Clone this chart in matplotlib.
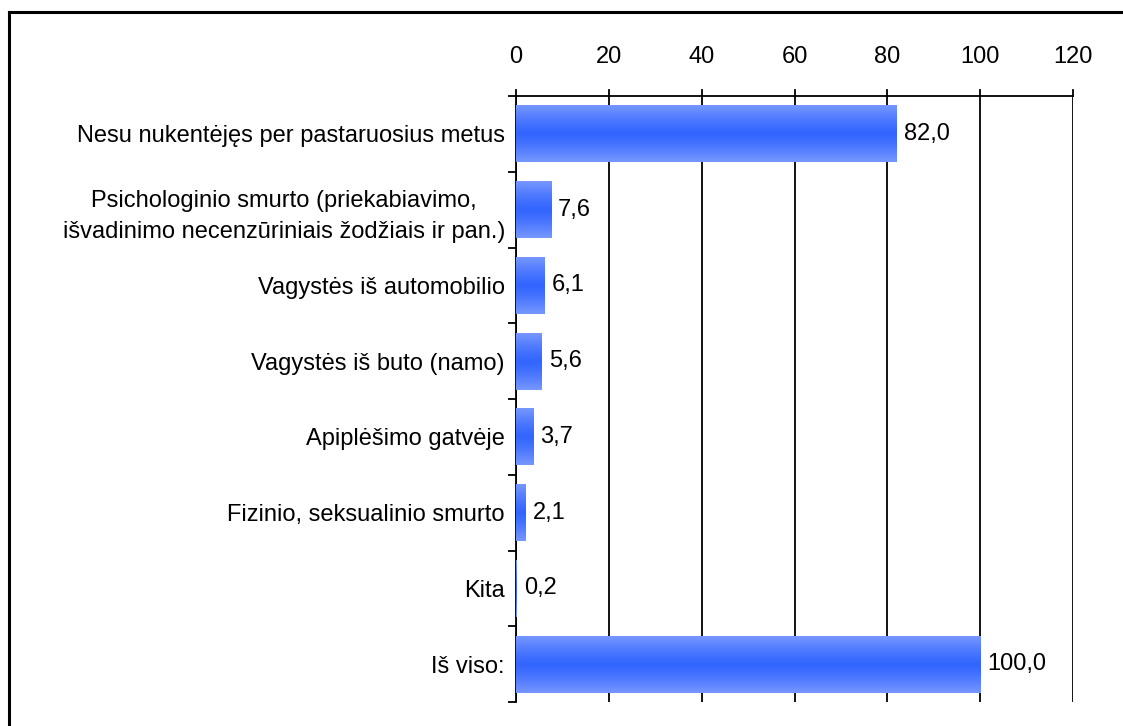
import matplotlib.pyplot as plt
import numpy as np
from matplotlib.colors import LinearSegmentedColormap
from matplotlib.lines import Line2D

plt.rcParams['font.family'] = ['Liberation Sans', 'DejaVu Sans']

categories = [
    "Nesu nukentėjęs per pastaruosius metus",
    "Psichologinio smurto (priekabiavimo,\nišvadinimo necenzūriniais žodžiais ir pan.)",
    "Vagystės iš automobilio",
    "Vagystės iš buto (namo)",
    "Apiplėšimo gatvėje",
    "Fizinio, seksualinio smurto",
    "Kita",
    "Iš viso:",
]
values = [82.0, 7.6, 6.1, 5.6, 3.7, 2.1, 0.2, 100.0]
xticks = [0, 20, 40, 60, 80, 100, 120]

fs = 17

fig = plt.figure(figsize=(11.23, 7.26), dpi=100)
ax = fig.add_axes([516 / 1123, 1 - 702 / 726, (1073 - 516) / 1123, (702 - 96) / 726])

# border of the chart area (top and left only visible)
fig.add_artist(Line2D([9 / 1123, 9 / 1123], [0, 1 - 12 / 726], transform=fig.transFigure, color='black', lw=2.2))
fig.add_artist(Line2D([9 / 1123, 1], [1 - 12 / 726, 1 - 12 / 726], transform=fig.transFigure, color='black', lw=2.2))

y = np.arange(len(categories))
bars = ax.barh(y, values, height=0.75, color='#3366ff', zorder=3)

# vertical gradient: light at the edges, dark in the middle
cmap = LinearSegmentedColormap.from_list('bar', ['#7797ff', '#3366ff', '#7797ff'])
prof = np.linspace(0, 1, 64)
prof = 0.5 + 0.5 * np.sign(prof - 0.5) * np.abs(2 * (prof - 0.5)) ** 1.3
grad = prof.reshape(-1, 1)
for b in bars:
    x0, y0 = b.get_x(), b.get_y()
    w, h = b.get_width(), b.get_height()
    b.set_facecolor('none')
    b.set_edgecolor('none')
    im = ax.imshow(grad, cmap=cmap, aspect='auto', extent=(x0, x0 + w, y0 + h, y0),
                   interpolation='bilinear', zorder=3, vmin=0, vmax=1)
    im.set_clip_path(b)

for yi, v in zip(y, values):
    ax.text(v + 1.5, yi, f"{v:.1f}".replace('.', ','), va='center', ha='left', fontsize=fs)

ax.set_xlim(0, 120)
ax.set_ylim(len(categories) - 0.5, -0.5)
ax.set_xticks(xticks)
ax.xaxis.tick_top()
ax.tick_params(axis='x', which='both', length=0, pad=20, labelsize=fs)
ax.grid(axis='x', color='black', lw=1.3, zorder=1)

ax.set_yticks(y)
ax.set_yticklabels(categories, fontsize=fs, linespacing=1.5)
ax.set_yticks(np.arange(len(categories) + 1) - 0.5, minor=True)
ax.tick_params(axis='y', which='major', length=0, pad=8)
ax.tick_params(axis='y', which='minor', length=6, width=1.3, direction='out')
for lab in ax.get_yticklabels():
    lab.set_multialignment('center')

ax.spines['right'].set_visible(False)
ax.spines['bottom'].set_visible(False)
ax.spines['top'].set_linewidth(1.3)
ax.spines['left'].set_linewidth(1.3)

# small tick marks above the top axis line at each grid position
for t in xticks:
    ax.plot([t, t], [-0.5, -0.58], color='black', lw=1.3, clip_on=False, zorder=4)

fig.savefig("out.png", dpi=100)
